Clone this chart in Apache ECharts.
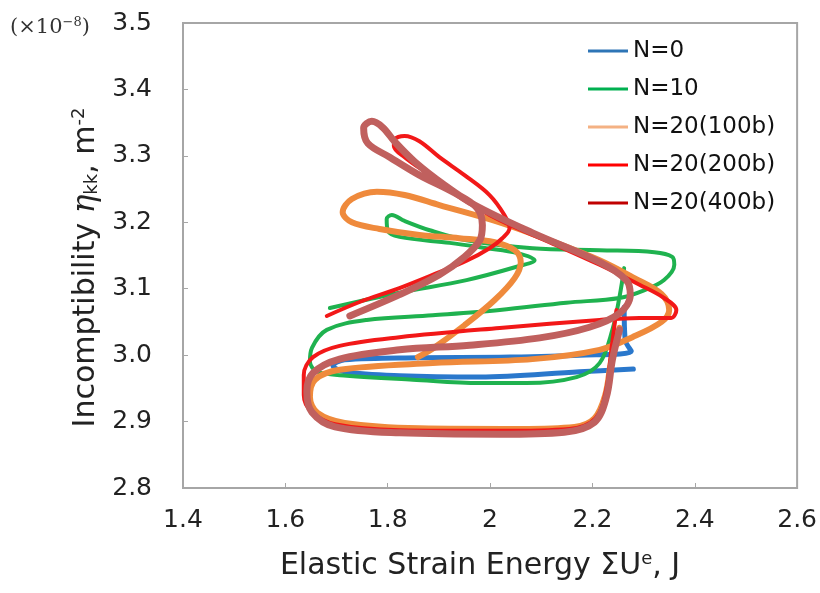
<!DOCTYPE html>
<html>
<head>
<meta charset="utf-8">
<script src="https://cdn.jsdelivr.net/npm/echarts@6/dist/echarts.min.js"></script>
<style>html,body{margin:0;padding:0;background:#fff}#c{width:820px;height:593px}</style>
</head>
<body>
<div id="c"></div>
<script>
const seriesNames = ['N=0', 'N=10', 'N=20(100b)', 'N=20(200b)', 'N=20(400b)'];
const xTicks = [1.4, 1.6, 1.8, 2.0, 2.2, 2.4, 2.6];
const yTicks = [2.8, 2.9, 3.0, 3.1, 3.2, 3.3, 3.4, 3.5];

const n0 = [[2.280,2.979],[2.175,2.975],[1.980,2.967],[1.823,2.969],[1.716,2.975],[1.693,2.984],[1.716,2.993],[1.862,2.996],[2.019,2.997],[2.175,3.000],[2.276,3.006],[2.264,3.023],[2.262,3.072]];
const n10 = [[1.687,3.071],[1.823,3.094],[1.954,3.113],[2.052,3.133],[2.087,3.143],[2.052,3.154],[1.993,3.161],[1.921,3.169],[1.823,3.178],[1.800,3.188],[1.798,3.205],[1.808,3.211],[1.833,3.202],[1.882,3.188],[1.954,3.173],[2.083,3.161],[2.214,3.158],[2.321,3.155],[2.356,3.148],[2.360,3.136],[2.340,3.113],[2.302,3.098],[2.253,3.086],[2.149,3.079],[2.019,3.068],[1.888,3.060],[1.759,3.053],[1.681,3.038],[1.652,3.011],[1.648,2.990],[1.663,2.975],[1.720,2.969],[1.849,2.963],[1.980,2.958],[2.071,2.958],[2.169,2.967],[2.214,2.988],[2.239,3.038],[2.253,3.088],[2.262,3.131]];
const n20b100 = [[1.859,2.997],[1.892,3.012],[1.950,3.045],[2.009,3.083],[2.048,3.116],[2.060,3.140],[2.048,3.158],[2.009,3.170],[1.940,3.176],[1.862,3.181],[1.784,3.190],[1.730,3.200],[1.712,3.215],[1.730,3.235],[1.779,3.246],[1.833,3.241],[1.901,3.226],[2.019,3.200],[2.116,3.173],[2.214,3.143],[2.282,3.116],[2.335,3.092],[2.350,3.068],[2.335,3.050],[2.278,3.027],[2.214,3.008],[2.083,2.994],[1.888,2.988],[1.706,2.978],[1.658,2.963],[1.648,2.937],[1.663,2.913],[1.716,2.898],[1.862,2.890],[2.058,2.889],[2.165,2.892],[2.204,2.905],[2.225,2.940],[2.237,2.993],[2.253,3.041]];
const n20b200 = [[1.681,3.059],[1.745,3.080],[1.823,3.101],[1.901,3.125],[1.954,3.142],[1.999,3.161],[2.024,3.176],[2.038,3.191],[2.028,3.211],[1.999,3.241],[1.950,3.271],[1.901,3.298],[1.862,3.322],[1.833,3.330],[1.814,3.325],[1.812,3.315],[1.833,3.298],[1.882,3.271],[1.940,3.238],[2.019,3.203],[2.116,3.170],[2.214,3.136],[2.292,3.106],[2.340,3.086],[2.364,3.068],[2.354,3.056],[2.292,3.056],[2.214,3.053],[2.019,3.041],[1.823,3.027],[1.706,3.014],[1.654,2.997],[1.636,2.970],[1.636,2.940],[1.652,2.914],[1.697,2.896],[1.823,2.887],[2.019,2.886],[2.155,2.889],[2.206,2.905],[2.227,2.948],[2.237,3.008],[2.247,3.068]];
const n20b400 = [[1.726,3.059],[1.823,3.091],[1.901,3.121],[1.950,3.148],[1.980,3.173],[1.985,3.196],[1.974,3.222],[1.931,3.244],[1.862,3.271],[1.804,3.298],[1.761,3.319],[1.753,3.342],[1.769,3.352],[1.790,3.343],[1.814,3.321],[1.853,3.291],[1.911,3.256],[1.970,3.226],[2.083,3.184],[2.214,3.140],[2.266,3.113],[2.274,3.091],[2.253,3.063],[2.194,3.042],[2.097,3.026],[1.960,3.015],[1.823,3.008],[1.706,2.994],[1.654,2.973],[1.642,2.945],[1.652,2.914],[1.697,2.892],[1.823,2.883],[2.019,2.881],[2.145,2.884],[2.204,2.899],[2.227,2.936],[2.239,2.993],[2.253,3.038]];

const chart = echarts.init(document.getElementById('c'), null, {renderer: 'canvas'});
const FONT = 'DejaVu Sans';
function mk(name, data, color, width, z) {
  return {name, type: 'line', data, smooth: 0.35, symbol: 'none', showSymbol: false, z,
    lineStyle: {color, width, cap: 'round', join: 'round'}, itemStyle: {color}, emphasis: {disabled: true}};
}
const legendColors = ['#2e75b6', '#00b050', '#f4b183', '#ff0000', '#c00000'];
chart.setOption({
  animation: false,
  backgroundColor: '#fff',
  grid: {left: 183, right: 22, top: 23, bottom: 105, show: true, borderColor: '#a6a6a6', borderWidth: 2, backgroundColor: 'transparent'},
  legend: {
    orient: 'vertical', left: 583, top: 33, itemWidth: 40, itemHeight: 14, itemGap: 12,
    textStyle: {fontFamily: FONT, fontSize: 23, color: '#111', lineHeight: 26},
    data: seriesNames.map((n, i) => ({name: n, icon: 'path://M0,0 L40,0 L40,3 L0,3 Z', itemStyle: {color: legendColors[i]}}))
  },
  xAxis: {
    type: 'value', min: xTicks[0], max: xTicks[xTicks.length - 1], interval: 0.2,
    name: 'Elastic Strain Energy ΣU{sup|e}, J', nameLocation: 'middle', nameGap: 62, nameMoveOverlap: false,
    nameTextStyle: {fontFamily: FONT, fontSize: 30, color: '#222', padding: [0, 20, 0, 0],
      rich: {sup: {fontFamily: FONT, fontSize: 18, color: '#222', padding: [0, 0, 14, 0]}}},
    axisLine: {show: true, lineStyle: {color: '#a6a6a6', width: 2}},
    axisTick: {show: true, inside: true, length: 5, lineStyle: {color: '#a6a6a6', width: 1}},
    splitLine: {show: false},
    axisLabel: {fontFamily: FONT, fontSize: 25, color: '#222', margin: 20, formatter: v => String(Math.round(v * 10) / 10)}
  },
  yAxis: {
    type: 'value', min: yTicks[0], max: yTicks[yTicks.length - 1], interval: 0.1,
    name: 'Incomptibility {eta|η}{sub|kk}, m{sup|-2}', nameLocation: 'middle', nameRotate: 90, nameGap: 81, nameMoveOverlap: false,
    nameTextStyle: {fontFamily: FONT, fontSize: 30, color: '#222', padding: [0, 24, 0, 0],
      rich: {eta: {fontFamily: 'DejaVu Serif', fontStyle: 'italic', fontSize: 31, color: '#222'},
             sub: {fontFamily: FONT, fontSize: 18, color: '#222', padding: [12, 0, 0, 0]},
             sup: {fontFamily: FONT, fontSize: 18, color: '#222', padding: [0, 0, 14, 0]}}},
    axisLine: {show: true, lineStyle: {color: '#a6a6a6', width: 2}},
    axisTick: {show: true, inside: true, length: 5, lineStyle: {color: '#a6a6a6', width: 1}},
    splitLine: {show: false},
    axisLabel: {fontFamily: FONT, fontSize: 25, color: '#222', margin: 31, formatter: v => v.toFixed(1)}
  },
  graphic: [{
    type: 'text', left: 10, top: 16,
    style: {text: '(×10{s|−8})', fontFamily: 'DejaVu Serif', fontSize: 21, fill: '#333',
      rich: {s: {fontFamily: 'DejaVu Serif', fontSize: 13, fill: '#333', padding: [0, 0, 10, 0]}}}
  }],
  series: [
    mk(seriesNames[0], n0, '#2a78cc', 5, 2),
    mk(seriesNames[1], n10, '#1fb24f', 4, 3),
    mk(seriesNames[2], n20b100, '#ef8a3c', 6, 4),
    mk(seriesNames[3], n20b200, '#f21818', 4, 5),
    mk(seriesNames[4], n20b400, '#c0605e', 7, 6)
  ]
});
</script>
</body>
</html>
